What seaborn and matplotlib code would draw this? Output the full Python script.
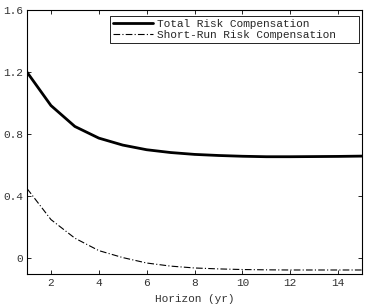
import matplotlib
matplotlib.use('Agg')
import matplotlib.pyplot as plt
import seaborn as sns
import pandas as pd

horizon = [1, 2, 3, 4, 5, 6, 7, 8, 9, 10, 11, 12, 13, 14, 15]
total_rc = [1.20, 0.985, 0.85, 0.775, 0.73, 0.70, 0.682, 0.670, 0.663, 0.658, 0.655, 0.655, 0.656, 0.657, 0.659]
short_rc = [0.45, 0.25, 0.13, 0.05, 0.005, -0.03, -0.05, -0.062, -0.068, -0.072, -0.074, -0.075, -0.075, -0.075, -0.075]

sns.set_style('ticks')
plt.rcParams['font.family'] = ['Liberation Mono', 'DejaVu Sans Mono']
plt.rcParams['xtick.direction'] = 'in'
plt.rcParams['ytick.direction'] = 'in'

df = pd.DataFrame({'h': horizon, 'total': total_rc, 'short': short_rc})

fig, ax = plt.subplots(figsize=(3.65, 3.06), dpi=100)
sns.lineplot(data=df, x='h', y='total', ax=ax, color='black', linewidth=2,
             label='Total Risk Compensation')
sns.lineplot(data=df, x='h', y='short', ax=ax, color='black', linewidth=0.8,
             linestyle=(0, (6, 2, 1, 2)), label='Short-Run Risk Compensation')

ax.set_xlim(1, 15)
ax.set_ylim(-0.1, 1.6)
ax.set_xticks([2, 4, 6, 8, 10, 12, 14])
ax.set_yticks([0, 0.4, 0.8, 1.2, 1.6])
ax.set_yticklabels(['0', '0.4', '0.8', '1.2', '1.6'])
ax.set_xlabel('Horizon (yr)', fontsize=8, color='#333333', labelpad=4)
ax.set_ylabel('')
ax.tick_params(labelsize=8, top=True, right=True, length=3, width=0.6, pad=3,
               colors='black', labelcolor='#333333')
for s in ax.spines.values():
    s.set_linewidth(0.8)
    s.set_color('black')

# legend box fixed to the reference's position (axes coords)
leg = ax.legend(loc='upper left', bbox_to_anchor=(0.248, 0.871, 0.743, 0.106),
                mode='expand', fontsize=8, frameon=True, fancybox=False,
                edgecolor='black', framealpha=1, borderpad=0.25, labelspacing=0.1,
                handlelength=3.6, borderaxespad=0, handletextpad=0.35)
leg.get_frame().set_linewidth(0.6)

plt.subplots_adjust(left=0.074, right=0.992, bottom=0.105, top=0.967)
fig.savefig('out.png', dpi=100)
